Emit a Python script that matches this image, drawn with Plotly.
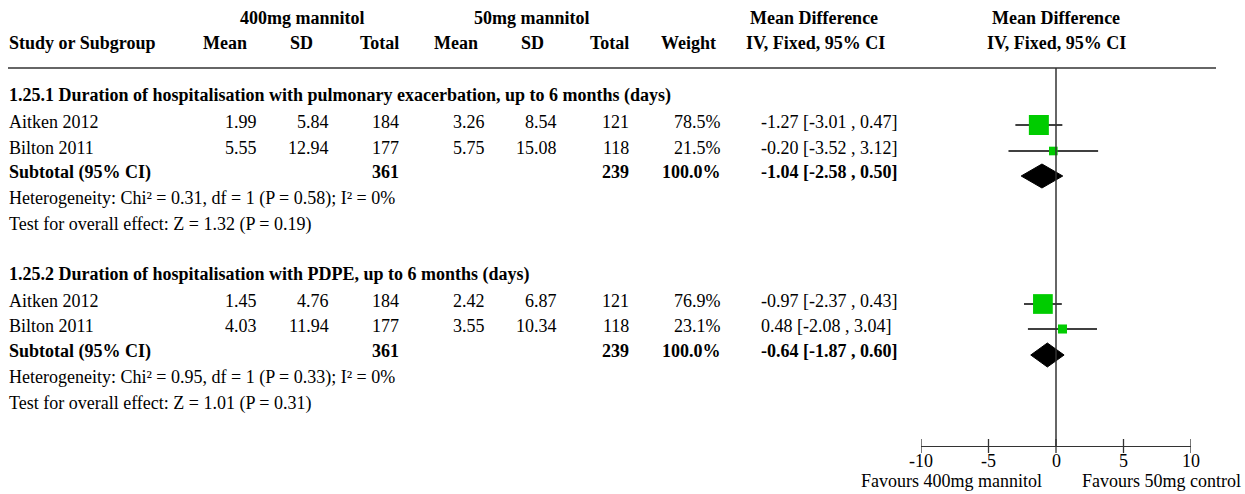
import plotly.graph_objects as go

W, H = 1245, 494
FONT = "Liberation Serif"
FS = 18

# ---- data ----
studies = ["Aitken 2012", "Bilton 2011"]

s1_title = "1.25.1 Duration of hospitalisation with pulmonary exacerbation, up to 6 months (days)"
s1_exp_mean = [1.99, 5.55]
s1_exp_sd = [5.84, 12.94]
s1_exp_n = [184, 177]
s1_ctl_mean = [3.26, 5.75]
s1_ctl_sd = [8.54, 15.08]
s1_ctl_n = [121, 118]
s1_weight = [78.5, 21.5]
s1_md = [-1.27, -0.20]
s1_lo = [-3.01, -3.52]
s1_hi = [0.47, 3.12]
s1_total = [361, 239]
s1_sub = [-1.04, -2.58, 0.50]
s1_het = "Heterogeneity: Chi² = 0.31, df = 1 (P = 0.58); I² = 0%"
s1_test = "Test for overall effect: Z = 1.32 (P = 0.19)"

s2_title = "1.25.2 Duration of hospitalisation with PDPE, up to 6 months (days)"
s2_exp_mean = [1.45, 4.03]
s2_exp_sd = [4.76, 11.94]
s2_exp_n = [184, 177]
s2_ctl_mean = [2.42, 3.55]
s2_ctl_sd = [6.87, 10.34]
s2_ctl_n = [121, 118]
s2_weight = [76.9, 23.1]
s2_md = [-0.97, 0.48]
s2_lo = [-2.37, -2.08]
s2_hi = [0.43, 3.04]
s2_total = [361, 239]
s2_sub = [-0.64, -1.87, 0.60]
s2_het = "Heterogeneity: Chi² = 0.95, df = 1 (P = 0.33); I² = 0%"
s2_test = "Test for overall effect: Z = 1.01 (P = 0.31)"

tick_vals = [-10, -5, 0, 5, 10]
tick_text = ["-10", "-5", "0", "5", "10"]
left_label = "Favours 400mg mannitol"
right_label = "Favours 50mg control"

# ---- layout geometry (pixels) ----
AX_LEFT, AX_RIGHT = 921, 1191
AXIS_Y = 446
TICKLABEL_Y = 461
FAVOURS_Y = 481
RULE_Y = 68
HEAD_Y = [18, 43]
SEC_Y = [
    dict(title=95, rows=[122, 148], sub=172, het=198, test=224),
    dict(title=274, rows=[301, 326], sub=351, het=377, test=403),
]
MARK_DY = 3      # whisker/square offset below the text centre
DIAMOND_DY = 4   # diamond offset below the subtotal text centre

# column anchors
COL_STUDY = 8
COL_EM, COL_ESD, COL_EN = 258, 330, 400
COL_CM, COL_CSD, COL_CN = 486, 558, 630
COL_W = 722
COL_CI = 760

fig = go.Figure()
ann = []


def txt(x, y, s, anchor="left", bold=False):
    ann.append(dict(
        x=x / W, y=y, xref="paper", yref="y", text=f"<b>{s}</b>" if bold else s,
        xanchor=anchor, yanchor="middle", showarrow=False, borderpad=0,
        font=dict(family=FONT, size=FS, color="black"),
    ))


# headers
txt(302, HEAD_Y[0], "400mg mannitol", "center", True)
txt(532, HEAD_Y[0], "50mg mannitol", "center", True)
txt(814, HEAD_Y[0], "Mean Difference", "center", True)
txt(1056, HEAD_Y[0], "Mean Difference", "center", True)
txt(COL_STUDY, HEAD_Y[1], "Study or Subgroup", "left", True)
txt(225, HEAD_Y[1], "Mean", "center", True)
txt(301, HEAD_Y[1], "SD", "center", True)
txt(COL_EN, HEAD_Y[1], "Total", "right", True)
txt(456, HEAD_Y[1], "Mean", "center", True)
txt(532, HEAD_Y[1], "SD", "center", True)
txt(COL_CN, HEAD_Y[1], "Total", "right", True)
txt(COL_W - 5, HEAD_Y[1], "Weight", "right", True)
txt(815, HEAD_Y[1], "IV, Fixed, 95% CI", "center", True)
txt(1056, HEAD_Y[1], "IV, Fixed, 95% CI", "center", True)

sections = [
    (s1_title, s1_exp_mean, s1_exp_sd, s1_exp_n, s1_ctl_mean, s1_ctl_sd, s1_ctl_n,
     s1_weight, s1_md, s1_lo, s1_hi, s1_total, s1_sub, s1_het, s1_test),
    (s2_title, s2_exp_mean, s2_exp_sd, s2_exp_n, s2_ctl_mean, s2_ctl_sd, s2_ctl_n,
     s2_weight, s2_md, s2_lo, s2_hi, s2_total, s2_sub, s2_het, s2_test),
]

max_w = max(s1_weight + s2_weight)

for geo, sec in zip(SEC_Y, sections):
    (title, em, esd, en, cm, csd, cn, wt, md, lo, hi, tot, sub, het, test) = sec
    txt(COL_STUDY, geo["title"], title, "left", True)
    for i, y in enumerate(geo["rows"]):
        txt(COL_STUDY, y, studies[i])
        txt(COL_EM, y, f"{em[i]:.2f}", "right")
        txt(COL_ESD, y, f"{esd[i]:.2f}", "right")
        txt(COL_EN, y, f"{en[i]}", "right")
        txt(COL_CM, y, f"{cm[i]:.2f}", "right")
        txt(COL_CSD, y, f"{csd[i]:.2f}", "right")
        txt(COL_CN, y, f"{cn[i]}", "right")
        txt(COL_W, y, f"{wt[i]:.1f}%", "right")
        txt(COL_CI, y, f"{md[i]:.2f} [{lo[i]:.2f} , {hi[i]:.2f}]")
        my = y + MARK_DY
        # confidence interval whisker
        fig.add_trace(go.Scatter(
            x=[lo[i], hi[i]], y=[my, my], mode="lines",
            line=dict(color="black", width=1.3), hoverinfo="skip", showlegend=False,
        ))
        # study weight square
        fig.add_trace(go.Scatter(
            x=[md[i]], y=[my], mode="markers",
            marker=dict(symbol="square", color="#00cc00",
                        size=20 * (wt[i] / max_w) ** 0.65, line=dict(width=0)),
            hoverinfo="skip", showlegend=False,
        ))
    sy = geo["sub"]
    txt(COL_STUDY, sy, "Subtotal (95% CI)", "left", True)
    txt(COL_EN, sy, f"{tot[0]}", "right", True)
    txt(COL_CN, sy, f"{tot[1]}", "right", True)
    txt(COL_W, sy, "100.0%", "right", True)
    txt(COL_CI, sy, f"{sub[0]:.2f} [{sub[1]:.2f} , {sub[2]:.2f}]", "left", True)
    # pooled estimate diamond
    dy = sy + DIAMOND_DY
    fig.add_trace(go.Scatter(
        x=[sub[1], sub[0], sub[2], sub[0], sub[1]],
        y=[dy, dy - 12, dy, dy + 12, dy],
        mode="lines", fill="toself", fillcolor="black",
        line=dict(color="black", width=1), hoverinfo="skip", showlegend=False,
    ))
    txt(COL_STUDY, geo["het"], het)
    txt(COL_STUDY, geo["test"], test)

# line of no effect
fig.add_trace(go.Scatter(
    x=[0, 0], y=[RULE_Y, AXIS_Y], mode="lines",
    line=dict(color="#333333", width=1.5), hoverinfo="skip", showlegend=False,
))
# tick marks crossing the axis line
fig.add_trace(go.Scatter(
    x=tick_vals, y=[AXIS_Y] * len(tick_vals), mode="markers",
    marker=dict(symbol="line-ns", size=10, line=dict(color="#333333", width=1.3)),
    hoverinfo="skip", showlegend=False,
))
# tick labels placed on the forest-plot scale
for v, t in zip(tick_vals, tick_text):
    ann.append(dict(
        x=v, y=TICKLABEL_Y, xref="x", yref="y", text=t,
        xanchor="center", yanchor="middle", showarrow=False, borderpad=0,
        font=dict(family=FONT, size=FS, color="black"),
    ))

txt(1043, FAVOURS_Y, left_label, "right")
txt(1081, FAVOURS_Y, right_label, "left")

fig.update_layout(
    width=W, height=H,
    margin=dict(l=0, r=0, t=0, b=0, autoexpand=False),
    paper_bgcolor="white", plot_bgcolor="white",
    annotations=ann,
    shapes=[dict(type="line", xref="paper", yref="y", x0=8 / W, x1=1216 / W,
                 y0=RULE_Y, y1=RULE_Y, line=dict(color="#333333", width=1.6))],
    xaxis=dict(
        domain=[AX_LEFT / W, AX_RIGHT / W], range=[-10, 10],
        anchor="free", position=(H - AXIS_Y) / H,
        showline=True, linecolor="#333333", linewidth=1.3,
        showgrid=False, zeroline=False, ticks="", showticklabels=False,
    ),
    yaxis=dict(domain=[0, 1], range=[H, 0], visible=False, showgrid=False, zeroline=False),
    showlegend=False,
)

fig.write_html("out.html")
